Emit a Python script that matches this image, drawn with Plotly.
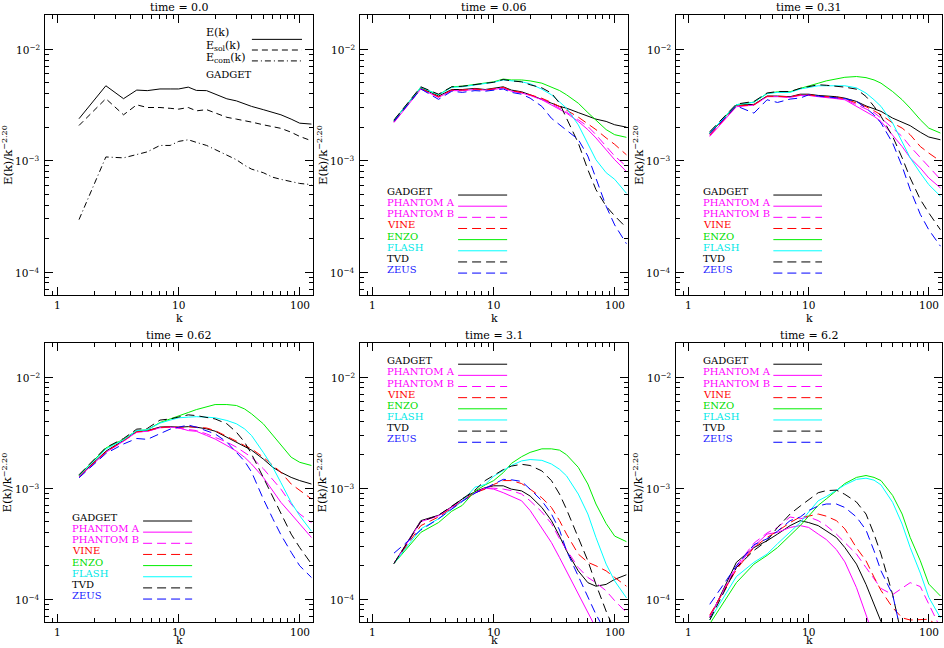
import math
import plotly.graph_objects as go

# ---------------- data ----------------
K = [1.5, 2.5, 3.5, 4.5, 5.5, 7, 8.5, 10, 12, 14, 17, 20, 25, 30, 35, 40, 50, 60, 70, 85, 100, 125]

# time = 0.0 (GADGET decomposition)
E_T0 = [2.38e-3, 4.7e-3, 3.6e-3, 4.3e-3, 4.25e-3, 4.4e-3, 4.4e-3, 4.4e-3, 4.57e-3, 4.27e-3, 4.25e-3, 3.95e-3,
        3.59e-3, 3.44e-3, 3.23e-3, 3.07e-3, 2.87e-3, 2.73e-3, 2.58e-3, 2.36e-3, 2.17e-3, 2.13e-3]
ESOL_T0 = [2.07e-3, 3.6e-3, 2.58e-3, 3.17e-3, 3.0e-3, 3.0e-3, 2.95e-3, 2.9e-3, 3.0e-3, 2.8e-3, 2.87e-3, 2.67e-3,
           2.45e-3, 2.36e-3, 2.3e-3, 2.22e-3, 2.1e-3, 2.03e-3, 1.95e-3, 1.8e-3, 1.65e-3, 1.51e-3]
ECOM_T0 = [2.96e-4, 1.08e-3, 1.06e-3, 1.13e-3, 1.2e-3, 1.37e-3, 1.37e-3, 1.49e-3, 1.54e-3, 1.46e-3, 1.37e-3, 1.26e-3,
           1.13e-3, 1.02e-3, 9.1e-4, 8.4e-4, 7.8e-4, 7.1e-4, 6.8e-4, 6.5e-4, 6.25e-4, 6.1e-4]

# time = 0.06
GADGET_006 = [2.3e-3, 4.5e-3, 3.8e-3, 4.35e-3, 4.35e-3, 4.45e-3, 4.35e-3, 4.45e-3, 4.6e-3, 4.3e-3, 4.15e-3, 3.9e-3, 3.57e-3, 3.28e-3, 3.07e-3, 2.96e-3, 2.7e-3, 2.49e-3, 2.36e-3, 2.25e-3, 2.1e-3, 2.0e-3]
PA_006 = [2.2e-3, 4.4e-3, 3.7e-3, 4.25e-3, 4.25e-3, 4.35e-3, 4.3e-3, 4.35e-3, 4.5e-3, 4.2e-3, 4.05e-3, 3.85e-3, 3.52e-3, 3.17e-3, 2.86e-3, 2.67e-3, 2.25e-3, 1.9e-3, 1.6e-3, 1.25e-3, 1.02e-3, 8.0e-4]
PB_006 = [2.22e-3, 4.42e-3, 3.72e-3, 4.28e-3, 4.28e-3, 4.38e-3, 4.3e-3, 4.38e-3, 4.52e-3, 4.22e-3, 4.08e-3, 3.87e-3, 3.57e-3, 3.24e-3, 2.96e-3, 2.73e-3, 2.33e-3, 2.03e-3, 1.71e-3, 1.34e-3, 1.1e-3, 8.9e-4]
VINE_006 = [2.25e-3, 4.45e-3, 3.75e-3, 4.3e-3, 4.3e-3, 4.4e-3, 4.3e-3, 4.4e-3, 4.55e-3, 4.25e-3, 4.1e-3, 3.9e-3, 3.63e-3, 3.33e-3, 3.07e-3, 2.84e-3, 2.46e-3, 2.15e-3, 1.9e-3, 1.6e-3, 1.4e-3, 1.13e-3]
ENZO_006 = [2.3e-3, 4.55e-3, 3.9e-3, 4.6e-3, 4.66e-3, 4.85e-3, 4.96e-3, 5.1e-3, 5.4e-3, 5.3e-3, 5.3e-3, 5.2e-3, 4.96e-3, 4.56e-3, 4.26e-3, 3.9e-3, 3.28e-3, 2.7e-3, 2.3e-3, 1.9e-3, 1.71e-3, 1.62e-3]
FLASH_006 = [2.3e-3, 4.55e-3, 3.9e-3, 4.55e-3, 4.6e-3, 4.8e-3, 4.9e-3, 5.05e-3, 5.3e-3, 5.2e-3, 5.1e-3, 4.9e-3, 4.38e-3, 3.9e-3, 3.4e-3, 2.96e-3, 2.1e-3, 1.44e-3, 1.02e-3, 7.8e-4, 6.8e-4, 5.1e-4]
TVD_006 = [2.32e-3, 4.6e-3, 3.95e-3, 4.6e-3, 4.65e-3, 4.85e-3, 4.95e-3, 5.05e-3, 5.35e-3, 5.2e-3, 5.1e-3, 4.8e-3, 4.5e-3, 4.04e-3, 3.28e-3, 2.4e-3, 1.44e-3, 8.3e-4, 5.5e-4, 3.9e-4, 3.2e-4, 2.5e-4]
ZEUS_006 = [2.25e-3, 4.4e-3, 3.55e-3, 4.2e-3, 4.1e-3, 4.25e-3, 4.2e-3, 4.3e-3, 4.4e-3, 4.1e-3, 3.95e-3, 3.64e-3, 3.07e-3, 2.4e-3, 2.1e-3, 1.9e-3, 1.55e-3, 1.1e-3, 7.0e-4, 3.9e-4, 2.65e-4, 1.8e-4]

# time = 0.31
GADGET_031 = [1.75e-3, 3.15e-3, 3.2e-3, 3.8e-3, 3.8e-3, 3.75e-3, 3.95e-3, 3.95e-3, 3.85e-3, 3.8e-3, 3.75e-3, 3.64e-3, 3.4e-3, 3.1e-3, 2.9e-3, 2.77e-3, 2.41e-3, 2.2e-3, 2.06e-3, 1.8e-3, 1.63e-3, 1.54e-3]
PA_031 = [1.65e-3, 3.05e-3, 3.15e-3, 3.75e-3, 3.75e-3, 3.7e-3, 3.85e-3, 3.85e-3, 3.75e-3, 3.7e-3, 3.6e-3, 3.52e-3, 3.07e-3, 2.77e-3, 2.5e-3, 2.25e-3, 1.71e-3, 1.34e-3, 1.06e-3, 8.6e-4, 7.0e-4, 5.7e-4]
PB_031 = [1.68e-3, 3.08e-3, 3.17e-3, 3.77e-3, 3.77e-3, 3.72e-3, 3.88e-3, 3.88e-3, 3.78e-3, 3.73e-3, 3.65e-3, 3.55e-3, 3.2e-3, 2.92e-3, 2.7e-3, 2.41e-3, 1.96e-3, 1.65e-3, 1.34e-3, 1.06e-3, 8.9e-4, 6.8e-4]
VINE_031 = [1.7e-3, 3.1e-3, 3.17e-3, 3.78e-3, 3.78e-3, 3.73e-3, 3.9e-3, 3.9e-3, 3.8e-3, 3.77e-3, 3.7e-3, 3.6e-3, 3.3e-3, 3.05e-3, 2.8e-3, 2.58e-3, 2.18e-3, 1.96e-3, 1.71e-3, 1.34e-3, 1.17e-3, 9.9e-4]
ENZO_031 = [1.78e-3, 3.18e-3, 3.35e-3, 4.0e-3, 4.15e-3, 4.15e-3, 4.45e-3, 4.65e-3, 4.95e-3, 5.2e-3, 5.4e-3, 5.6e-3, 5.69e-3, 5.56e-3, 5.3e-3, 4.96e-3, 4.17e-3, 3.52e-3, 2.96e-3, 2.33e-3, 1.96e-3, 1.77e-3]
FLASH_031 = [1.78e-3, 3.18e-3, 3.35e-3, 4.0e-3, 4.1e-3, 4.1e-3, 4.4e-3, 4.55e-3, 4.7e-3, 4.7e-3, 4.7e-3, 4.7e-3, 4.5e-3, 4.04e-3, 3.52e-3, 3.07e-3, 2.18e-3, 1.49e-3, 1.06e-3, 7.76e-4, 6.1e-4, 4.8e-4]
TVD_031 = [1.82e-3, 3.22e-3, 3.4e-3, 4.05e-3, 4.17e-3, 4.17e-3, 4.46e-3, 4.63e-3, 4.8e-3, 4.75e-3, 4.65e-3, 4.57e-3, 4.38e-3, 3.77e-3, 3.07e-3, 2.5e-3, 1.65e-3, 1.06e-3, 7.0e-4, 4.48e-4, 3.4e-4, 2.4e-4]
ZEUS_031 = [1.75e-3, 3.1e-3, 2.67e-3, 3.52e-3, 3.33e-3, 3.57e-3, 3.65e-3, 3.9e-3, 3.8e-3, 3.75e-3, 3.7e-3, 3.6e-3, 3.4e-3, 2.96e-3, 2.58e-3, 2.18e-3, 1.44e-3, 8.9e-4, 5.5e-4, 3.3e-4, 2.4e-4, 1.71e-4]

# time = 0.62
GADGET_062 = [1.28e-3, 2.15e-3, 2.7e-3, 3.25e-3, 3.3e-3, 3.55e-3, 3.58e-3, 3.54e-3, 3.58e-3, 3.54e-3, 3.42e-3, 3.26e-3, 2.87e-3, 2.6e-3, 2.37e-3, 2.2e-3, 1.83e-3, 1.54e-3, 1.39e-3, 1.25e-3, 1.17e-3, 1.09e-3]
PA_062 = [1.26e-3, 2.1e-3, 2.65e-3, 3.2e-3, 3.25e-3, 3.5e-3, 3.54e-3, 3.5e-3, 3.3e-3, 3.25e-3, 2.98e-3, 2.77e-3, 2.42e-3, 2.15e-3, 1.9e-3, 1.65e-3, 1.25e-3, 9.5e-4, 7.45e-4, 5.85e-4, 4.75e-4, 3.6e-4]
PB_062 = [1.27e-3, 2.1e-3, 2.65e-3, 3.2e-3, 3.25e-3, 3.5e-3, 3.54e-3, 3.45e-3, 3.35e-3, 3.3e-3, 3.08e-3, 2.87e-3, 2.6e-3, 2.34e-3, 2.1e-3, 1.9e-3, 1.5e-3, 1.2e-3, 9.8e-4, 7.2e-4, 5.85e-4, 4.9e-4]
VINE_062 = [1.28e-3, 2.12e-3, 2.68e-3, 3.22e-3, 3.28e-3, 3.52e-3, 3.56e-3, 3.54e-3, 3.58e-3, 3.56e-3, 3.48e-3, 3.3e-3, 2.95e-3, 2.65e-3, 2.42e-3, 2.26e-3, 1.9e-3, 1.6e-3, 1.39e-3, 1.09e-3, 9.5e-4, 8.0e-4]
ENZO_062 = [1.3e-3, 2.3e-3, 2.75e-3, 3.3e-3, 3.35e-3, 3.9e-3, 4.2e-3, 4.5e-3, 4.8e-3, 5.1e-3, 5.4e-3, 5.66e-3, 5.66e-3, 5.55e-3, 5.17e-3, 4.67e-3, 3.8e-3, 2.98e-3, 2.42e-3, 1.9e-3, 1.71e-3, 1.6e-3]
FLASH_062 = [1.3e-3, 2.25e-3, 2.72e-3, 3.3e-3, 3.35e-3, 3.85e-3, 4.1e-3, 4.3e-3, 4.36e-3, 4.4e-3, 4.36e-3, 4.3e-3, 4.07e-3, 3.8e-3, 3.42e-3, 2.98e-3, 2.1e-3, 1.54e-3, 1.12e-3, 7.45e-4, 5.65e-4, 4.1e-4]
TVD_062 = [1.32e-3, 2.32e-3, 2.8e-3, 3.4e-3, 3.45e-3, 4.1e-3, 4.2e-3, 4.36e-3, 4.57e-3, 4.5e-3, 4.36e-3, 4.2e-3, 3.8e-3, 3.19e-3, 2.6e-3, 2.03e-3, 1.25e-3, 8.3e-4, 5.85e-4, 3.86e-4, 2.92e-4, 2.08e-4]
ZEUS_062 = [1.24e-3, 2.05e-3, 2.5e-3, 2.8e-3, 2.75e-3, 3.08e-3, 3.4e-3, 3.54e-3, 3.7e-3, 3.54e-3, 3.3e-3, 3.08e-3, 2.6e-3, 2.1e-3, 1.75e-3, 1.4e-3, 8.0e-4, 5.3e-4, 3.8e-4, 2.65e-4, 2.0e-4, 1.57e-4]

# time = 3.1
GADGET_31 = [2.1e-4, 5.1e-4, 5.7e-4, 6.8e-4, 8.0e-4, 9.3e-4, 1.01e-3, 1.05e-3, 1.05e-3, 9.8e-4, 9.45e-4, 8.5e-4, 6.7e-4, 5.1e-4, 3.7e-4, 2.73e-4, 1.8e-4, 1.41e-4, 1.31e-4, 1.36e-4, 1.51e-4, 1.66e-4]
PA_31 = [2.1e-4, 5.0e-4, 5.65e-4, 6.7e-4, 7.7e-4, 9.1e-4, 1.0e-3, 9.8e-4, 9.1e-4, 8.5e-4, 7.7e-4, 6.3e-4, 4.43e-4, 3.24e-4, 2.37e-4, 1.8e-4, 1.12e-4, 7.8e-5, 5.5e-5, 4e-5, 3e-5, 2e-5]
PB_31 = [2.1e-4, 5.0e-4, 5.65e-4, 6.7e-4, 7.7e-4, 9.1e-4, 1.0e-3, 1.0e-3, 9.8e-4, 9.5e-4, 8.85e-4, 7.7e-4, 6.1e-4, 4.8e-4, 3.5e-4, 2.83e-4, 1.93e-4, 1.57e-4, 1.41e-4, 1.19e-4, 9.7e-5, 7.6e-5]
VINE_31 = [2.1e-4, 4.6e-4, 5.5e-4, 6.6e-4, 7.6e-4, 9.1e-4, 9.8e-4, 1.08e-3, 1.17e-3, 1.17e-3, 1.1e-3, 9.8e-4, 8.2e-4, 6.7e-4, 5.1e-4, 3.86e-4, 2.55e-4, 2.15e-4, 2.0e-4, 1.8e-4, 1.57e-4, 1.31e-4]
ENZO_31 = [2.1e-4, 4.0e-4, 4.9e-4, 6.2e-4, 7.0e-4, 9.4e-4, 1.07e-3, 1.17e-3, 1.38e-3, 1.67e-3, 1.92e-3, 2.1e-3, 2.26e-3, 2.26e-3, 2.2e-3, 2.0e-3, 1.54e-3, 1.09e-3, 7.2e-4, 4.8e-4, 3.7e-4, 3.3e-4]
FLASH_31 = [2.1e-4, 4.3e-4, 5.3e-4, 6.5e-4, 7.6e-4, 1.02e-3, 1.08e-3, 1.28e-3, 1.45e-3, 1.6e-3, 1.76e-3, 1.81e-3, 1.78e-3, 1.65e-3, 1.48e-3, 1.29e-3, 8.85e-4, 5.85e-4, 3.6e-4, 2.07e-4, 1.46e-4, 1.03e-4]
TVD_31 = [2.1e-4, 5.0e-4, 5.7e-4, 6.9e-4, 8.1e-4, 9.6e-4, 1.17e-3, 1.3e-3, 1.47e-3, 1.58e-3, 1.64e-3, 1.6e-3, 1.43e-3, 1.17e-3, 8.85e-4, 6.45e-4, 3.6e-4, 2.22e-4, 1.36e-4, 7.8e-5, 5.2e-5, 3.5e-5]
ZEUS_31 = [2.6e-4, 4.2e-4, 5.3e-4, 6.5e-4, 7.6e-4, 9.0e-4, 1.0e-3, 1.08e-3, 1.2e-3, 1.19e-3, 1.15e-3, 9.8e-4, 7.7e-4, 5.85e-4, 4.2e-4, 2.73e-4, 1.62e-4, 1.04e-4, 7.3e-5, 5e-5, 3.5e-5, 2.5e-5]

# time = 6.2
GADGET_62 = [6.8e-5, 2.15e-4, 2.92e-4, 3.36e-4, 3.86e-4, 4.6e-4, 5.1e-4, 4.9e-4, 4.6e-4, 4.1e-4, 3.6e-4, 2.92e-4, 2.07e-4, 1.36e-4, 9.0e-5, 6.3e-5, 4.5e-5, 3e-5, 2e-5, 1.5e-5, 1e-5, 1e-5]
PA_62 = [7.0e-5, 1.93e-4, 3.0e-4, 3.86e-4, 4.0e-4, 4.43e-4, 4.6e-4, 4.43e-4, 3.86e-4, 3.45e-4, 2.8e-4, 2.17e-4, 1.27e-4, 7.3e-5, 4.5e-5, 3e-5, 2e-5, 1.5e-5, 1e-5, 1e-5, 1e-5, 1e-5]
PB_62 = [7.0e-5, 2.0e-4, 3.2e-4, 3.95e-4, 4.43e-4, 5.5e-4, 5.3e-4, 5.5e-4, 5.1e-4, 4.6e-4, 3.86e-4, 3.24e-4, 2.55e-4, 1.93e-4, 1.55e-4, 1.25e-4, 1.1e-4, 1.25e-4, 1.41e-4, 1.3e-4, 9.0e-5, 5.5e-5]
VINE_62 = [7.2e-5, 1.85e-4, 2.92e-4, 3.6e-4, 4.1e-4, 4.9e-4, 5.5e-4, 5.6e-4, 5.85e-4, 5.6e-4, 5.1e-4, 4.3e-4, 2.9e-4, 2.22e-4, 1.58e-4, 1.2e-4, 8.4e-5, 6.8e-5, 6.5e-5, 6.5e-5, 6.6e-5, 5.5e-5]
ENZO_62 = [6.0e-5, 1.41e-4, 2.07e-4, 2.48e-4, 2.92e-4, 3.72e-4, 4.6e-4, 5.6e-4, 7.0e-4, 8.0e-4, 9.5e-4, 1.1e-3, 1.25e-3, 1.3e-3, 1.25e-3, 1.17e-3, 8.6e-4, 5.85e-4, 3.6e-4, 2.22e-4, 1.37e-4, 1.07e-4]
FLASH_62 = [6.5e-5, 1.6e-4, 2.15e-4, 2.55e-4, 3.16e-4, 3.99e-4, 4.9e-4, 6.1e-4, 7.7e-4, 8.4e-4, 9.5e-4, 1.07e-3, 1.2e-3, 1.23e-3, 1.18e-3, 1.07e-3, 7.45e-4, 4.75e-4, 2.92e-4, 1.72e-4, 1.04e-4, 6.8e-5]
TVD_62 = [6.5e-5, 1.93e-4, 2.75e-4, 3.36e-4, 4.43e-4, 5.85e-4, 6.9e-4, 7.9e-4, 9.1e-4, 9.5e-4, 9.6e-4, 8.8e-4, 7.5e-4, 5.85e-4, 3.86e-4, 2.55e-4, 1.1e-4, 4.5e-5, 3e-5, 2e-5, 1.5e-5, 1e-5]
ZEUS_62 = [9.0e-5, 2.0e-4, 3.1e-4, 3.5e-4, 4.1e-4, 5.1e-4, 5.5e-4, 6.3e-4, 6.9e-4, 7.2e-4, 7.2e-4, 6.7e-4, 5.5e-4, 4.2e-4, 2.73e-4, 1.8e-4, 1.1e-4, 4.5e-5, 3e-5, 2e-5, 1.5e-5, 1e-5]

TITLES = ["time = 0.0", "time = 0.06", "time = 0.31", "time = 0.62", "time = 3.1", "time = 6.2"]
CODES = ["GADGET", "PHANTOM A", "PHANTOM B", "VINE", "ENZO", "FLASH", "TVD", "ZEUS"]
X_TICKS = [1, 10, 100]
X_TICKTEXT = ["1", "10", "100"]
Y_TICKS = [1e-4, 1e-3, 1e-2]
Y_TICKTEXT = ["10<sup>−4</sup>", "10<sup>−3</sup>", "10<sup>−2</sup>"]

PANEL_DATA = [
    None,
    [GADGET_006, PA_006, PB_006, VINE_006, ENZO_006, FLASH_006, TVD_006, ZEUS_006],
    [GADGET_031, PA_031, PB_031, VINE_031, ENZO_031, FLASH_031, TVD_031, ZEUS_031],
    [GADGET_062, PA_062, PB_062, VINE_062, ENZO_062, FLASH_062, TVD_062, ZEUS_062],
    [GADGET_31, PA_31, PB_31, VINE_31, ENZO_31, FLASH_31, TVD_31, ZEUS_31],
    [GADGET_62, PA_62, PB_62, VINE_62, ENZO_62, FLASH_62, TVD_62, ZEUS_62],
]

# ---------------- styles ----------------
DASHED = "9px,5px"
STYLE = {
    "GADGET": ("#000000", "solid", "#000000"),
    "PHANTOM A": ("#ff00ff", "solid", "#ff00ff"),
    "PHANTOM B": ("#ff00ff", DASHED, "#ff00ff"),
    "VINE": ("#ff0000", DASHED, "#ff0000"),
    "ENZO": ("#00ee00", "solid", "#00dd00"),
    "FLASH": ("#00ffff", "solid", "#00e8e8"),
    "TVD": ("#000000", DASHED, "#000000"),
    "ZEUS": ("#0000ff", DASHED, "#2020ff"),
}
FONT = "DejaVu Serif"
W, H = 944, 648
XPX = [(45, 313), (360, 628), (676, 942)]
YPX = [(15, 295), (343, 622)]
X_MINOR = [0.8, 0.9, 2, 3, 4, 5, 6, 7, 8, 9, 20, 30, 40, 50, 60, 70, 80, 90]
Y_MINOR = [7e-5, 8e-5, 9e-5, 2e-4, 3e-4, 4e-4, 5e-4, 6e-4, 7e-4, 8e-4, 9e-4,
           2e-3, 3e-3, 4e-3, 5e-3, 6e-3, 7e-3, 8e-3, 9e-3, 2e-2]

fig = go.Figure()

panels = []
for r in range(2):
    for c in range(3):
        panels.append((XPX[c], YPX[r]))

for i, ((x0, x1), (y0, y1)) in enumerate(panels, start=1):
    sx = "" if i == 1 else str(i)
    xa = dict(
        type="log", range=[-0.105, 2.11], domain=[x0 / W, x1 / W], anchor="y" + sx,
        showline=True, linecolor="black", linewidth=1, mirror="allticks",
        ticks="inside", ticklen=8, tickwidth=1, tickcolor="black",
        tickmode="array", tickvals=X_TICKS, showticklabels=False,
        minor=dict(ticks="inside", ticklen=4, tickcolor="black", tickwidth=1,
                   tickmode="array", tickvals=X_MINOR),
        showgrid=False, zeroline=False,
    )
    ya = dict(
        type="log", range=[-4.205, -1.693], domain=[1 - y1 / H, 1 - y0 / H], anchor="x" + sx,
        showline=True, linecolor="black", linewidth=1, mirror="allticks",
        ticks="inside", ticklen=8, tickwidth=1, tickcolor="black",
        tickmode="array", tickvals=Y_TICKS, showticklabels=False,
        minor=dict(ticks="inside", ticklen=4, tickcolor="black", tickwidth=1,
                   tickmode="array", tickvals=Y_MINOR),
        showgrid=False, zeroline=False,
    )
    fig.update_layout(**{"xaxis" + sx: xa, "yaxis" + sx: ya})

    cx = (x0 + x1) / 2 / W
    bottom_row = y1 > 400
    # tick labels
    for v, t in zip(X_TICKS, X_TICKTEXT):
        fig.add_annotation(text=t, x=math.log10(v), y=1 - (y1 + 10) / H, xref="x" + sx, yref="paper",
                           showarrow=False, xanchor="center", yanchor="middle", borderpad=0,
                           font=dict(family=FONT, size=10.5, color="black"))
    for v, t in zip(Y_TICKS, Y_TICKTEXT):
        fig.add_annotation(text=t, x=(x0 - 3) / W, y=math.log10(v), xref="paper", yref="y" + sx,
                           showarrow=False, xanchor="right", yanchor="middle",
                           font=dict(family=FONT, size=10.5, color="black"))
    # title
    fig.add_annotation(text=TITLES[i - 1], x=cx, y=1 - (y0 - 8) / H, xref="paper", yref="paper",
                       showarrow=False, xanchor="center", yanchor="middle", borderpad=0,
                       font=dict(family=FONT, size=11, color="black"))
    # x label
    if bottom_row:
        fig.add_annotation(text="k", x=cx, y=0, xref="paper", yref="paper",
                           showarrow=False, xanchor="center", yanchor="bottom", borderpad=0,
                           font=dict(family=FONT, size=11, color="black"))
    else:
        fig.add_annotation(text="k", x=cx, y=1 - (y1 + 23) / H, xref="paper", yref="paper",
                           showarrow=False, xanchor="center", yanchor="middle", borderpad=0,
                           font=dict(family=FONT, size=11, color="black"))
    # y label
    fig.add_annotation(text="E(k)/k<sup>−2.20</sup>", x=(x0 - 38) / W, y=1 - (y0 + y1) / 2 / H,
                       xref="paper", yref="paper", showarrow=False, textangle=-90,
                       xanchor="center", yanchor="middle",
                       font=dict(family=FONT, size=11.5, color="black"))

# ---------- panel 1 ----------
for vals, dash, name in [(E_T0, "solid", "E(k)"), (ESOL_T0, "6px,4px", "E_sol(k)"),
                         (ECOM_T0, "6px,3px,1px,3px", "E_com(k)")]:
    fig.add_trace(go.Scatter(x=K, y=vals, mode="lines", name=name, showlegend=False,
                             line=dict(color="black", width=1, dash=dash), xaxis="x", yaxis="y"))

leg1 = [("E(k)", "solid", 0.936, 0.913), ("E<sub>sol</sub>(k)", "6px,4px", 0.889, 0.875),
        ("E<sub>com</sub>(k)", "6px,3px,1px,3px", 0.847, 0.836)]
for txt, dash, ty, ly in leg1:
    fig.add_annotation(text=txt, x=0.593, y=ty, xref="x domain", yref="y domain", showarrow=False,
                       xanchor="left", yanchor="middle", font=dict(family=FONT, size=11, color="black"))
    fig.add_shape(type="line", x0=0.772, x1=0.959, y0=ly, y1=ly, xref="x domain", yref="y domain",
                  line=dict(color="black", width=1, dash=dash))
fig.add_annotation(text="GADGET", x=0.593, y=0.786, xref="x domain", yref="y domain", showarrow=False,
                   xanchor="left", yanchor="middle", font=dict(family=FONT, size=10, color="black"))

# ---------- panels 2-6 ----------
LEG_TOP = {2: 0.357, 3: 0.357, 4: 0.362, 5: 0.924, 6: 0.924}
for i in range(2, 7):
    xref = f"x{i}"
    yref = f"y{i}"
    (x0, x1), (y0, y1) = panels[i - 1]
    step = 11.15 / (y1 - y0)
    for code, vals in zip(CODES, PANEL_DATA[i - 1]):
        color, dash, tcolor = STYLE[code]
        fig.add_trace(go.Scatter(x=K, y=vals, mode="lines", name=code, showlegend=False,
                                 line=dict(color=color, width=1, dash=dash), xaxis=xref, yaxis=yref))
    for j, code in enumerate(CODES):
        color, dash, tcolor = STYLE[code]
        ly = LEG_TOP[i] - j * step
        fig.add_annotation(text=code, x=0.093, y=ly + 3.5 / (y1 - y0), xref=f"{xref} domain",
                           yref=f"{yref} domain", showarrow=False, xanchor="left", yanchor="middle",
                           font=dict(family=FONT, size=10, color=tcolor))
        fig.add_shape(type="line", x0=0.366, x1=0.549, y0=ly, y1=ly, xref=f"{xref} domain",
                      yref=f"{yref} domain", line=dict(color=color, width=1, dash=dash))

fig.update_layout(width=W, height=H, autosize=False, margin=dict(l=0, r=0, t=0, b=0),
                  paper_bgcolor="white", plot_bgcolor="white", showlegend=False)

fig.write_html("out.html", config={"displayModeBar": False},
               post_script="document.body.style.margin='0px';document.body.style.overflow='hidden';")
